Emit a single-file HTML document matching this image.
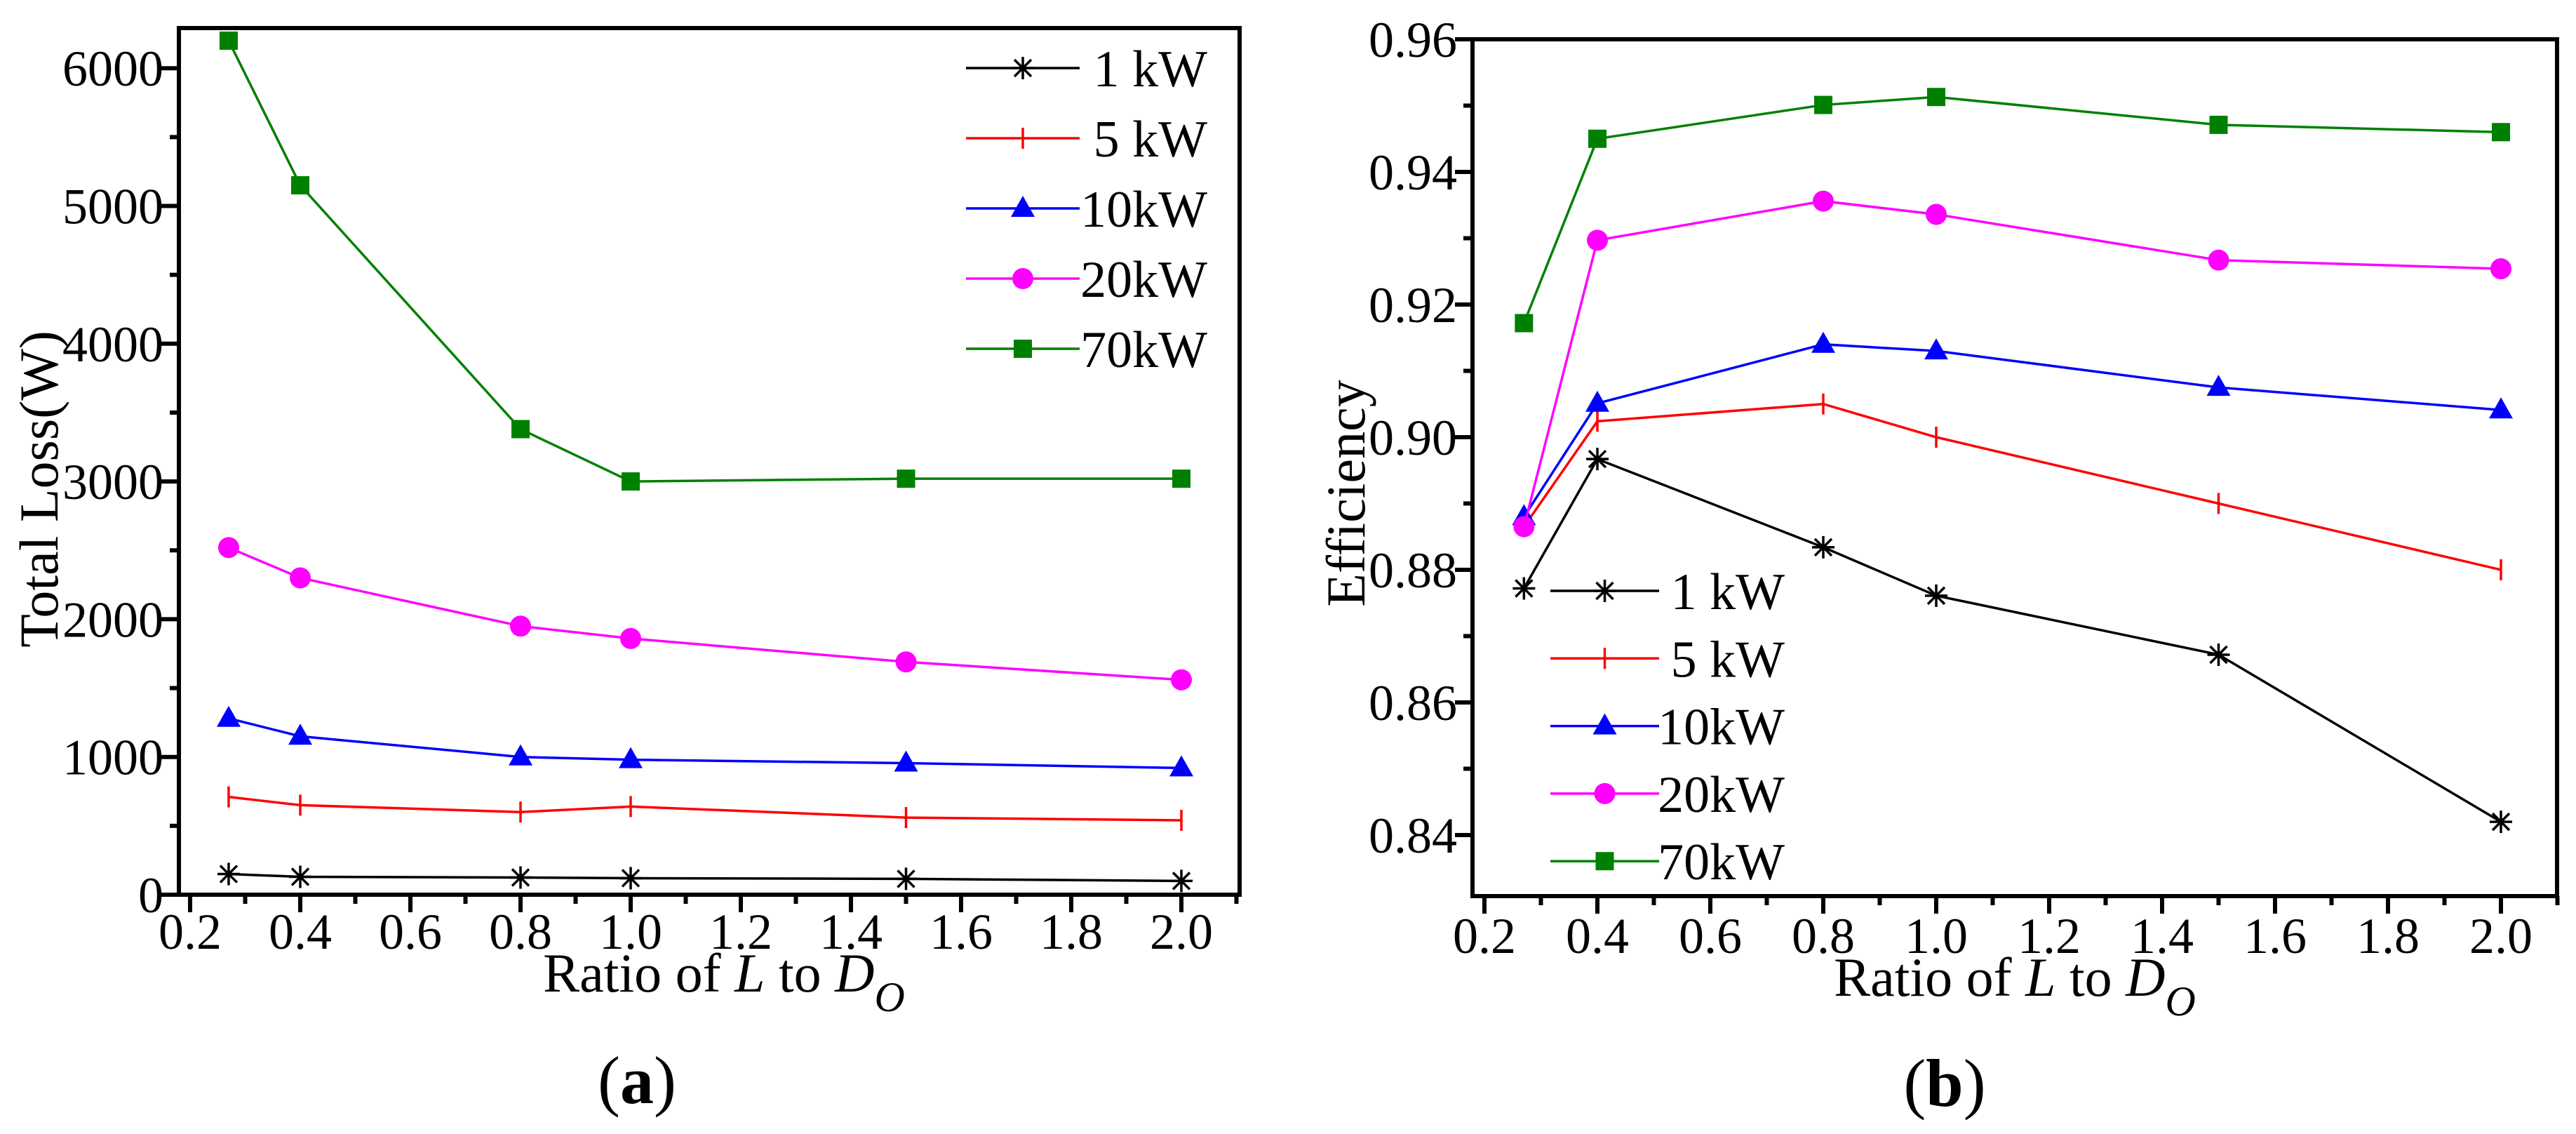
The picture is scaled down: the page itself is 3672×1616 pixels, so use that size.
<!DOCTYPE html>
<html><head><meta charset="utf-8"><style>
html,body{margin:0;padding:0;background:#fff;}
svg{display:block;font-family:"Liberation Serif","Times New Roman",Times,serif;}
svg text{font-family:"Liberation Serif","Times New Roman",Times,serif;fill:#000;}
</style></head><body>
<svg id="fig" width="3672" height="1616" viewBox="0 0 3672 1616" xmlns="http://www.w3.org/2000/svg" font-family="Liberation Serif, Times New Roman, serif"></svg>
<script>
const xValues = [0.27, 0.4, 0.8, 1.0, 1.5, 2.0];
const seriesNames = ["1 kW", "5 kW", "10kW", "20kW", "70kW"];
const lossData1 = [150, 130, 125, 120, 115, 100];
const lossData5 = [710, 650, 600, 640, 560, 540];
const lossData10 = [1280, 1150, 1000, 980, 955, 920];
const lossData20 = [2520, 2300, 1950, 1860, 1690, 1560];
const lossData70 = [6200, 5150, 3380, 3000, 3020, 3020];
const effData1 = [0.8772, 0.8967, 0.8834, 0.8761, 0.8672, 0.8420];
const effData5 = [0.8865, 0.9024, 0.9050, 0.9000, 0.8900, 0.8800];
const effData10 = [0.8880, 0.9051, 0.9140, 0.9130, 0.9075, 0.9041];
const effData20 = [0.8865, 0.9297, 0.9356, 0.9336, 0.9267, 0.9254];
const effData70 = [0.9172, 0.9450, 0.9501, 0.9513, 0.9471, 0.9460];
const xTicks = ["0.2","0.4","0.6","0.8","1.0","1.2","1.4","1.6","1.8","2.0"];
const lossTicks = ["0","1000","2000","3000","4000","5000","6000"];
const effTicks = ["0.84","0.86","0.88","0.90","0.92","0.94","0.96"];

const NS = "http://www.w3.org/2000/svg";
const svg = document.getElementById('fig');
const colors = ["#000000","#ff0000","#0000ff","#ff00ff","#008000"];
const markers = ["star","plus","tri","circle","square"];
const FONT = "Liberation Serif, Times New Roman, serif";

function mk(tag, attrs, parent){
  const e = document.createElementNS(NS, tag);
  for (const k in attrs) e.setAttribute(k, attrs[k]);
  if (tag === 'text') e.setAttribute('font-family', FONT);
  (parent||svg).appendChild(e);
  return e;
}
function marker(g, type, x, y, c){
  let m;
  if (type==="star"){
    m = mk('path',{d:`M${x-16},${y}H${x+16}M${x},${y-16}V${y+16}M${x-12},${y-12}L${x+12},${y+12}M${x-12},${y+12}L${x+12},${y-12}`,stroke:c,'stroke-width':3.5,fill:'none'},g);
  } else if (type==="plus"){
    m = mk('path',{d:`M${x},${y-15}V${y+15}`,stroke:c,'stroke-width':3.5,fill:'none'},g);
  } else if (type==="tri"){
    m = mk('polygon',{points:`${x},${y-18} ${x+17},${y+12} ${x-17},${y+12}`,fill:c},g);
  } else if (type==="circle"){
    m = mk('circle',{cx:x,cy:y,r:15,fill:c},g);
  } else {
    m = mk('rect',{x:x-13,y:y-13,width:26,height:26,fill:c},g);
  }
  
  
}

function panel(cfg){
  const g = mk('g',{});
  
  
  const X = v => cfg.x0 + (v-0.2)/0.2*cfg.dx;
  const Y = v => cfg.yZero - (v-cfg.yMin)/cfg.yStep*cfg.dy;
  const ticks = mk('g',{stroke:'#000','stroke-width':6},g);
  
  
  for (let i=0;i<=19;i++){
    const v = 0.2 + i*0.1;
    const x = X(v);
    if (x > cfg.R+2) break;
    const len = i%2===0 ? 25 : 13;
    mk('line',{x1:x,y1:cfg.B,x2:x,y2:cfg.B+len},ticks);
  }
  for (let i=0;i<xTicks.length;i++){
    const t = mk('text',{x:X(parseFloat(xTicks[i])),y:cfg.xLabelY,'font-size':72,'text-anchor':'middle'},g);
    t.textContent = xTicks[i];
    
    
  }
  for (let i=0;i<cfg.yTicks.length*2;i++){
    const v = cfg.yMin + i*cfg.yStep/2;
    const y = Y(v);
    if (y < cfg.T-2) break;
    const len = i%2===0 ? 25 : 13;
    mk('line',{x1:cfg.L,y1:y,x2:cfg.L-len,y2:y},ticks);
  }
  for (let i=0;i<cfg.yTicks.length;i++){
    const t = mk('text',{x:cfg.L-22,y:Y(parseFloat(cfg.yTicks[i]))+25,'font-size':72,'text-anchor':'end'},g);
    t.textContent = cfg.yTicks[i];
    
    
  }
  const fr = mk('rect',{x:cfg.L,y:cfg.T,width:cfg.R-cfg.L,height:cfg.B-cfg.T,fill:'none',stroke:'#000','stroke-width':6},g);
  
  
  cfg.data.forEach((arr, si)=>{
    const sg = mk('g',{},g);
    
    
    const pts = arr.map((v,i)=>X(xValues[i])+','+Y(v)).join(' ');
    mk('polyline',{points:pts,fill:'none',stroke:colors[si],'stroke-width':3.5},sg);
    arr.forEach((v,i)=>marker(sg, markers[si], X(xValues[i]), Y(v), colors[si]));
  });
  const lg = mk('g',{},g);
  
  
  seriesNames.forEach((n,si)=>{
    const y = cfg.legY + si*cfg.legDy;
    const e = mk('g',{},lg);
    
    
    mk('line',{x1:cfg.legX1,y1:y,x2:cfg.legX2,y2:y,stroke:colors[si],'stroke-width':3.5},e);
    marker(e, markers[si], (cfg.legX1+cfg.legX2)/2, y, colors[si]);
    const t = mk('text',{x:cfg.legTextX,y:y+26,'font-size':74,'text-anchor':'end'},e);
    t.textContent = n;
  });
  const yt = mk('text',{x:0,y:0,'font-size':78,'text-anchor':'middle',transform:`translate(${cfg.yTitleX},${cfg.yTitleY}) rotate(-90)`},g);
  yt.textContent = cfg.yTitle;
  
  
  const xt = mk('text',{x:cfg.xTitleX,y:cfg.xTitleY,'font-size':78,'text-anchor':'middle'},g);
  xt.innerHTML = 'Ratio of <tspan font-style="italic">L</tspan> to <tspan font-style="italic">D</tspan><tspan font-style="italic" font-size="60" dy="28">O</tspan>';
  
  
  const pl = mk('text',{x:cfg.capX,y:cfg.capY,'font-size':96,'text-anchor':'middle'},g);
  pl.innerHTML = '(<tspan font-weight="bold">' + cfg.cap + '</tspan>)';
  
  
}

panel({name:'panel-a-total-loss', L:255,R:1767,T:40,B:1275, x0:271, dx:157,
  yZero:1275, yMin:0, yStep:1000, dy:196.3, yTicks:lossTicks,
  data:[lossData1,lossData5,lossData10,lossData20,lossData70],
  xLabelY:1352, legY:97, legDy:100, legX1:1377, legX2:1539, legTextX:1721,
  yTitle:'Total Loss(W)', yTitleX:82, yTitleY:697, xTitleX:1032, xTitleY:1413,
  cap:'a', capX:908, capY:1572});

panel({name:'panel-b-efficiency', L:2099,R:3645,T:56,B:1277, x0:2116, dx:161,
  yZero:1190, yMin:0.84, yStep:0.02, dy:189, yTicks:effTicks,
  data:[effData1,effData5,effData10,effData20,effData70],
  xLabelY:1358, legY:842, legDy:96.3, legX1:2210, legX2:2365, legTextX:2544,
  yTitle:'Efficiency', yTitleX:1945, yTitleY:703, xTitleX:2872, xTitleY:1419,
  cap:'b', capX:2772, capY:1576});
</script>
</body></html>
